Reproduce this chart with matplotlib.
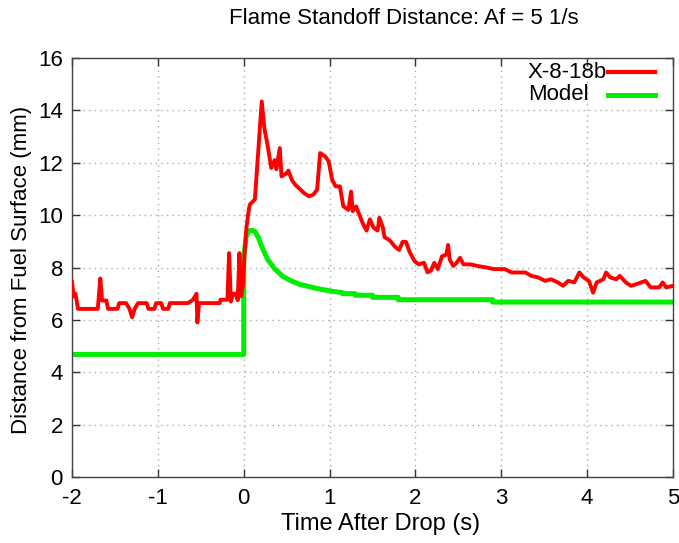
import matplotlib
matplotlib.use("Agg")
import matplotlib.pyplot as plt
from matplotlib.lines import Line2D

plt.rcParams['font.family'] = ['Liberation Sans', 'DejaVu Sans']

# Experimental series X-8-18b
exp_t = [-2.00, -1.98, -1.96, -1.93, -1.70, -1.67, -1.65, -1.60, -1.58, -1.47,
         -1.45, -1.37, -1.33, -1.30, -1.27, -1.23, -1.13, -1.11, -1.04, -1.02,
         -0.96, -0.94, -0.88, -0.86, -0.65, -0.59, -0.55, -0.54, -0.52, -0.28,
         -0.27, -0.19, -0.17, -0.15, -0.12, -0.09, -0.07, -0.05, -0.03, -0.01,
         0.01, 0.03, 0.05, 0.07, 0.13, 0.21, 0.24, 0.28, 0.32, 0.36,
         0.38, 0.42, 0.44, 0.50, 0.52, 0.56, 0.60, 0.64, 0.70, 0.76,
         0.81, 0.855, 0.89, 0.95, 0.99, 1.03, 1.07, 1.12, 1.16, 1.22,
         1.25, 1.27, 1.31, 1.33, 1.39, 1.43, 1.47, 1.51, 1.56, 1.58,
         1.62, 1.64, 1.70, 1.76, 1.81, 1.85, 1.89, 1.93, 1.99, 2.04,
         2.10, 2.14, 2.18, 2.22, 2.26, 2.31, 2.36, 2.38, 2.40, 2.44,
         2.48, 2.52, 2.56, 2.64, 2.72, 2.83, 2.91, 2.99, 3.04, 3.12,
         3.28, 3.35, 3.43, 3.51, 3.58, 3.66, 3.72, 3.78, 3.85, 3.91,
         3.96, 4.02, 4.07, 4.11, 4.19, 4.22, 4.27, 4.34, 4.38, 4.45,
         4.51, 4.57, 4.68, 4.74, 4.84, 4.88, 4.92, 5.00]
exp_d = [7.45, 6.90, 7.00, 6.42, 6.42, 7.58, 6.74, 6.74, 6.42, 6.42,
         6.64, 6.64, 6.42, 6.10, 6.42, 6.64, 6.64, 6.42, 6.42, 6.64,
         6.64, 6.42, 6.42, 6.64, 6.64, 6.77, 7.00, 5.90, 6.64, 6.64,
         6.77, 6.77, 8.55, 6.70, 7.00, 7.00, 6.75, 8.55, 6.90, 7.30,
         8.50, 9.45, 10.00, 10.40, 10.60, 14.34, 13.33, 12.63, 11.80, 12.10,
         11.75, 12.56, 11.48, 11.60, 11.70, 11.35, 11.16, 11.04, 10.85, 10.72,
         10.78, 10.97, 12.37, 12.24, 12.05, 11.35, 11.10, 11.10, 10.34, 10.20,
         10.90, 10.15, 10.33, 10.15, 9.66, 9.41, 9.84, 9.53, 9.41, 9.90,
         9.53, 9.16, 9.04, 8.80, 8.67, 8.98, 8.98, 8.61, 8.24, 8.12,
         8.18, 7.82, 7.88, 8.18, 7.94, 8.43, 8.49, 8.86, 8.30, 8.06,
         8.18, 8.37, 8.12, 8.12, 8.06, 8.00, 7.94, 7.94, 7.94, 7.81,
         7.81, 7.68, 7.62, 7.49, 7.55, 7.43, 7.30, 7.49, 7.43, 7.81,
         7.62, 7.49, 7.04, 7.43, 7.55, 7.81, 7.62, 7.55, 7.68, 7.43,
         7.30, 7.36, 7.49, 7.24, 7.24, 7.43, 7.24, 7.30]

# Model series
mod_t = [-2.00, 0.00, 0.00, 0.03, 0.06, 0.10, 0.13, 0.17, 0.21, 0.28,
         0.36, 0.46, 0.56, 0.66, 0.75, 0.85, 0.95, 1.05, 1.15, 1.15,
         1.30, 1.30, 1.50, 1.50, 1.80, 1.80, 2.90, 2.90, 5.00]
mod_d = [4.68, 4.68, 8.40, 9.20, 9.40, 9.42, 9.38, 9.15, 8.80, 8.30,
         7.95, 7.65, 7.48, 7.35, 7.28, 7.20, 7.14, 7.08, 7.04, 7.00,
         7.00, 6.94, 6.94, 6.86, 6.86, 6.77, 6.77, 6.68, 6.68]

xticks = [-2, -1, 0, 1, 2, 3, 4, 5]
yticks = [0, 2, 4, 6, 8, 10, 12, 14, 16]
series_names = ["X-8-18b", "Model"]

fig = plt.figure(figsize=(6.79, 5.43), dpi=100)
ax = fig.add_axes([72/679, 1-477/543, 601/679, 419/543])

red = "#ff0000"
green = "#00ee00"
ax.plot(exp_t, exp_d, color=red, lw=2.8, label=series_names[0], zorder=3)
ax.plot(mod_t, mod_d, color=green, lw=3.6, label=series_names[1], zorder=2)

ax.set_xlim(-2, 5)
ax.set_ylim(0, 16)
ax.set_xticks(xticks)
ax.set_yticks(yticks)
ax.set_xticklabels([str(v) for v in xticks])
ax.set_yticklabels([str(v) for v in yticks])
ax.grid(True, color="#aaaaaa", linestyle=(0, (1, 3)), linewidth=1.0)
ax.tick_params(direction="in", top=True, right=True, length=6, width=1,
               color="#333333", labelsize=16)
ax.tick_params(axis="x", pad=8)
ax.tick_params(axis="y", pad=6.5)
for s in ax.spines.values():
    s.set_color("#444444")
    s.set_linewidth(1.0)

ax.set_xlabel("Time After Drop (s)", fontsize=17)
ax.set_ylabel("Distance from Fuel Surface (mm)", fontsize=16)
ax.xaxis.set_label_coords((381-72)/601, -(524-477)/419)
ax.yaxis.set_label_coords(-(72-22)/601, (477-270)/419)
for lbl in (ax.xaxis.label, ax.yaxis.label):
    lbl.set_va("center")

fig.text(404/679, 1-18/543, "Flame Standoff Distance: Af = 5 1/s",
         ha="center", va="center", fontsize=16)

# legend (text then line sample)
leg_y = [(477-72)/419, (477-95)/419]
for name, col, lw, yy in zip(series_names, [red, green], [3.0, 3.6], leg_y):
    ax.text((528-72)/601, yy, name, transform=ax.transAxes, ha="left",
            va="center", fontsize=16, zorder=5)
    ax.add_line(Line2D([(608-72)/601, (655-72)/601], [yy, yy],
                       transform=ax.transAxes, color=col, lw=lw, zorder=5))

fig.savefig("out.png", dpi=100)
